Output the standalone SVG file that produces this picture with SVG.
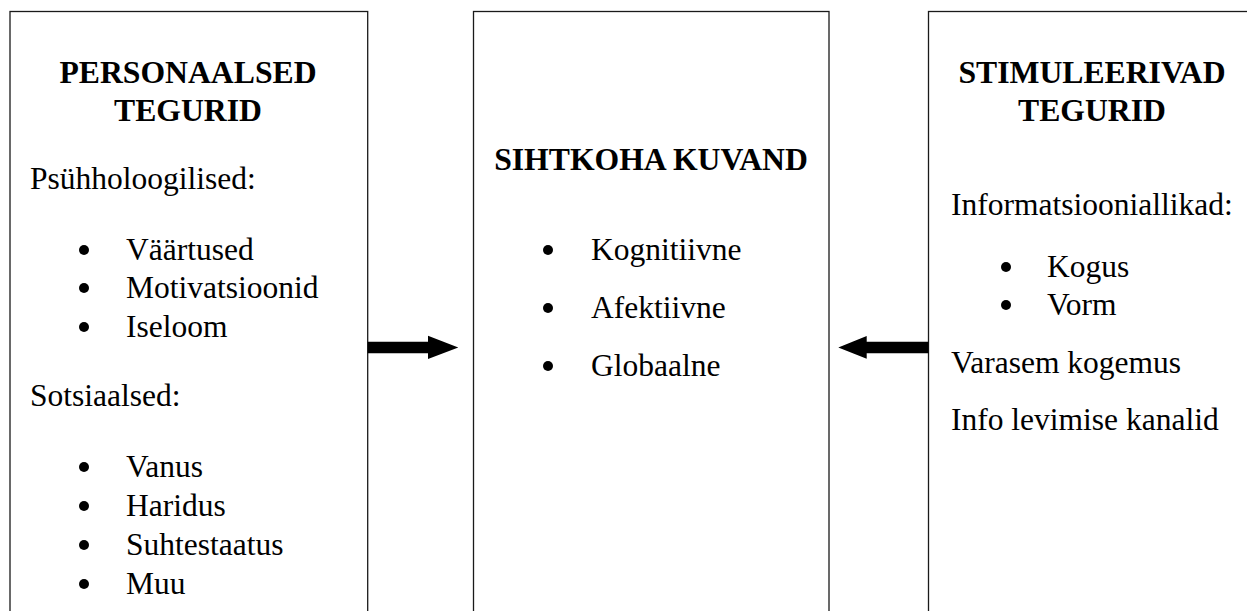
<svg xmlns="http://www.w3.org/2000/svg" width="1247" height="611" viewBox="0 0 1247 611">
<style>
.box{fill:#fff;stroke:#1a1a1a;stroke-width:1.3}
.t{font-family:"Liberation Serif","Times New Roman",serif;font-size:31.5px;fill:#000}
.b{font-weight:bold;font-size:31.7px}
.dot{fill:#000}
.arrow{fill:#000}
</style>
<rect width="1247" height="611" fill="#fff"/>
<g id="personaalsed">
<rect class="box" x="10" y="11.5" width="357.7" height="640"/>
<text class="t b" x="188" y="83" text-anchor="middle">PERSONAALSED</text>
<text class="t b" x="188" y="121" text-anchor="middle">TEGURID</text>
<text class="t" x="30" y="189">Psühholoogilised:</text>
<circle class="dot" cx="84" cy="250" r="5"/><text class="t" x="126" y="260">Väärtused</text>
<circle class="dot" cx="84" cy="288" r="5"/><text class="t" x="126" y="298">Motivatsioonid</text>
<circle class="dot" cx="84" cy="327" r="5"/><text class="t" x="126" y="337">Iseloom</text>
<text class="t" x="30" y="406">Sotsiaalsed:</text>
<circle class="dot" cx="84" cy="467" r="5"/><text class="t" x="126" y="477">Vanus</text>
<circle class="dot" cx="84" cy="506" r="5"/><text class="t" x="126" y="516">Haridus</text>
<circle class="dot" cx="84" cy="545" r="5"/><text class="t" x="126" y="555">Suhtestaatus</text>
<circle class="dot" cx="84" cy="584" r="5"/><text class="t" x="126" y="594">Muu</text>
</g>
<g id="sihtkoha">
<rect class="box" x="473.5" y="11.5" width="355.5" height="640"/>
<text class="t b" x="651" y="170" text-anchor="middle">SIHTKOHA KUVAND</text>
<circle class="dot" cx="548" cy="250" r="5"/><text class="t" x="591" y="260">Kognitiivne</text>
<circle class="dot" cx="548" cy="308" r="5"/><text class="t" x="591" y="318">Afektiivne</text>
<circle class="dot" cx="548" cy="366" r="5"/><text class="t" x="591" y="376">Globaalne</text>
</g>
<g id="stimuleerivad">
<rect class="box" x="928.5" y="11.5" width="340" height="640"/>
<text class="t b" x="1092" y="83" text-anchor="middle">STIMULEERIVAD</text>
<text class="t b" x="1092" y="121" text-anchor="middle">TEGURID</text>
<text class="t" x="951" y="215">Informatsiooniallikad:</text>
<circle class="dot" cx="1006" cy="267" r="5"/><text class="t" x="1047" y="277">Kogus</text>
<circle class="dot" cx="1006" cy="305" r="5"/><text class="t" x="1047" y="315">Vorm</text>
<text class="t" x="951" y="373">Varasem kogemus</text>
<text class="t" x="951" y="430">Info levimise kanalid</text>
</g>
<g id="connectors">
<polygon class="arrow" points="367.7,341.7 428,341.7 428,335.7 458.3,347.5 428,359 428,353.3 367.7,353.3"/>
<polygon class="arrow" points="928.5,341.7 866.7,341.7 866.7,336 838.3,347.5 866.7,358.7 866.7,353.3 928.5,353.3"/>
</g>
</svg>
